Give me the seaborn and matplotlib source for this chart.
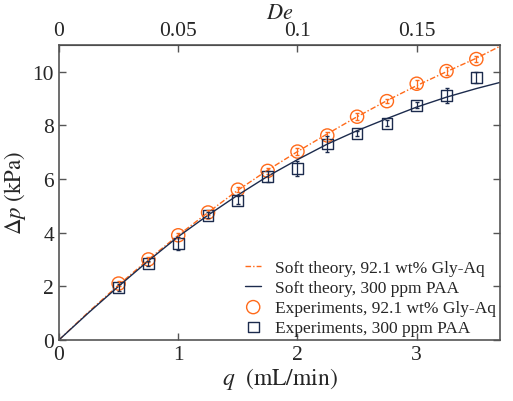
import seaborn as sns
import matplotlib
matplotlib.use("Agg")
import matplotlib.pyplot as plt
import numpy as np
import pandas as pd

# theory curves
q_th = [0, 0.25, 0.5, 0.75, 1.0, 1.25, 1.5, 1.75, 2.0, 2.25, 2.5, 2.75, 3.0, 3.25, 3.5, 3.7]
dp_gly_th = [0, 1.05, 2.05, 3.0, 3.9, 4.75, 5.58, 6.33, 7.02, 7.68, 8.32, 8.92, 9.48, 10.0, 10.5, 10.95]
dp_paa_th = [0, 1.02, 2.0, 2.95, 3.85, 4.65, 5.4, 6.1, 6.72, 7.3, 7.8, 8.25, 8.68, 9.05, 9.37, 9.6]

# experiments
q_exp = [0.5, 0.75, 1.0, 1.25, 1.5, 1.75, 2.0, 2.25, 2.5, 2.75, 3.0, 3.25, 3.5]
dp_gly = [2.1, 3.0, 3.9, 4.75, 5.6, 6.3, 7.02, 7.62, 8.32, 8.9, 9.55, 10.02, 10.47]
err_gly = [0.1, 0.08, 0.1, 0.08, 0.1, 0.1, 0.12, 0.12, 0.12, 0.08, 0.15, 0.15, 0.12]
dp_paa = [1.95, 2.85, 3.6, 4.65, 5.2, 6.1, 6.38, 7.3, 7.7, 8.08, 8.75, 9.12, 9.78]
err_paa = [0.12, 0.1, 0.25, 0.1, 0.15, 0.2, 0.28, 0.3, 0.1, 0.1, 0.12, 0.27, 0.2]

orange = "#FF6A1A"
navy = "#1C2B4D"

sns.set_style("ticks")
plt.rcParams["font.family"] = ["Liberation Serif", "DejaVu Serif"]
plt.rcParams["mathtext.fontset"] = "stix"

th = pd.DataFrame({"q": q_th, "gly": dp_gly_th, "paa": dp_paa_th})

fig = plt.figure(figsize=(5.13, 4.02), dpi=100)
ax = fig.add_axes([0.115, 0.152, 0.86, 0.734])

sns.lineplot(data=th, x="q", y="gly", ax=ax, color=orange, lw=1.0,
             linestyle=(0, (4, 1.5, 1, 1.5)), label="Soft theory, 92.1 wt% Gly-Aq")
sns.lineplot(data=th, x="q", y="paa", ax=ax, color=navy, lw=1.0,
             label="Soft theory, 300 ppm PAA")

ax.errorbar(q_exp, dp_gly, yerr=err_gly, fmt="none", ecolor=orange, elinewidth=0.9, capsize=1.5)
ax.errorbar(q_exp, dp_paa, yerr=err_paa, fmt="none", ecolor=navy, elinewidth=0.9, capsize=1.5)
sns.scatterplot(x=q_exp, y=dp_gly, ax=ax, marker="o", s=90, facecolor="none",
                edgecolor=orange, linewidth=1.0, label="Experiments, 92.1 wt% Gly-Aq")
sns.scatterplot(x=q_exp, y=dp_paa, ax=ax, marker="s", s=60, facecolor="none",
                edgecolor=navy, linewidth=1.0, label="Experiments, 300 ppm PAA")

ax.set_xlim(0, 3.7)
ax.set_ylim(0, 11)
ax.set_xticks([0, 1, 2, 3])
ax.set_yticks([0, 2, 4, 6, 8, 10])
ax.set_xlabel(r"$q\ \ (\mathrm{mL}/\mathrm{min})$", fontsize=17, labelpad=1)
ax.set_ylabel(r"$\Delta p\ \mathrm{(kPa)}$", fontsize=16.5, labelpad=3)
ax.tick_params(direction="in", length=5, width=1, labelsize=15.5, right=True, color="#555555")

top = ax.secondary_xaxis("top", functions=(lambda x: x * 0.05, lambda d: d / 0.05))
top.set_xticks([0, 0.05, 0.1, 0.15])
top.set_xticklabels(["0", "0.05", "0.1", "0.15"])
top.tick_params(direction="in", length=5, width=1, labelsize=15.5, color="#555555")
top.set_xlabel(r"$De$", fontsize=16, labelpad=2)

for s in ax.spines.values():
    s.set_color("#555555")
    s.set_linewidth(1.2)

ax.legend(loc="lower right", bbox_to_anchor=(1.01, -0.015), frameon=False, fontsize=12.5,
          handlelength=0.9, handletextpad=0.8, labelspacing=0.22, borderaxespad=0.1)

fig.savefig("out.png", dpi=100)
